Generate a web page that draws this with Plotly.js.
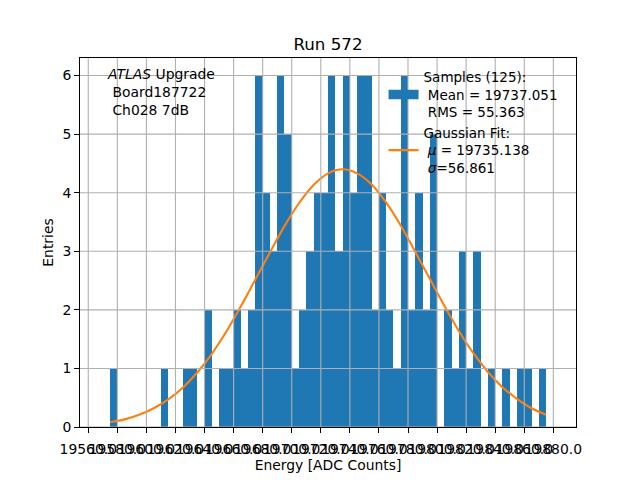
<!DOCTYPE html>
<html>
<head>
<meta charset="utf-8">
<script src="https://cdn.plot.ly/plotly-3.0.1.min.js"></script>
<style>html,body{margin:0;padding:0;background:#fff}</style>
</head>
<body>
<div id="myChart" style="width:640px;height:480px"></div>
<script>
// 125 samples, 60 bins of 5 ADC counts starting at 19575
const binStart = 19575;
const binWidth = 5;
const counts = [1,0,0,0,0,0,0,1,0,0,
                1,1,0,2,0,1,1,2,1,2,
                6,4,3,6,5,1,2,3,4,4,
                6,3,6,4,6,6,2,4,2,1,
                6,2,4,2,5,0,2,1,3,1,
                3,0,1,0,1,0,1,1,0,1];

// gaussian fit curve
const fitX = [19575,19585,19595,19605,19615,19625,19635,19645,19655,19665,
              19675,19685,19695,19705,19715,19725,19735,19745,19755,19765,
              19775,19785,19795,19805,19815,19825,19835,19845,19855,19865,19875];
const fitY = [0.08,0.13,0.21,0.32,0.47,0.67,0.93,1.25,1.63,2.06,
              2.52,2.98,3.43,3.82,4.13,4.33,4.40,4.33,4.14,3.83,
              3.44,2.99,2.53,2.07,1.64,1.26,0.94,0.68,0.48,0.32,0.21];

const xTicks = [19560,19580,19600,19620,19640,19660,19680,19700,19720,
                19740,19760,19780,19800,19820,19840,19860,19880];
const yTicks = [0,1,2,3,4,5,6];

const BLUE = '#1f77b4';
const ORANGE = '#ff7f0e';
const GRID = '#b0b0b0';
const FONT = 'DejaVu Sans, sans-serif';
const NB = '\u00a0';

let binCenters = counts.map((c, i) => binStart + binWidth * (i + 0.5));

const samplesLegend = {
    x: [null], y: [null],
    type: 'scatter',
    mode: 'lines',
    name: 'Samples (125):<br>' + NB + 'Mean = 19737.051<br>' + NB + 'RMS = 55.363',
    line: { color: BLUE, width: 9.5 },
    hoverinfo: 'skip'
};

const hist = {
    x: binCenters,
    y: counts,
    type: 'bar',
    width: binWidth,
    marker: { color: BLUE, line: { width: 0 } },
    showlegend: false
};

const fit = {
    x: fitX,
    y: fitY,
    type: 'scatter',
    mode: 'lines',
    line: { color: ORANGE, width: 2.1, shape: 'spline' },
    name: 'Gaussian Fit:<br>' + NB + '<i>μ</i> = 19735.138<br>' + NB + '<i>σ</i>=56.861'
};

// grid lines drawn over the bars, like matplotlib
let shapes = [];
xTicks.forEach(v => shapes.push({
    type: 'line', xref: 'x', yref: 'paper', x0: v, x1: v, y0: 0, y1: 1,
    line: { color: GRID, width: 1.1 }, layer: 'above'
}));
yTicks.forEach(v => shapes.push({
    type: 'line', xref: 'paper', yref: 'y', x0: 0, x1: 1, y0: v, y1: v,
    line: { color: GRID, width: 1.1 }, layer: 'above'
}));

const axisCommon = {
    showgrid: false,
    zeroline: false,
    showline: true,
    mirror: true,
    linecolor: '#000000',
    linewidth: 1,
    ticks: 'outside',
    ticklen: 5,
    tickwidth: 1,
    tickcolor: '#000000',
    tickfont: { family: FONT, size: 13.9, color: '#000000' },
    tickmode: 'array',
    tickangle: 0
};

const layout = {
    width: 640,
    height: 480,
    font: { family: FONT, color: '#000000' },
    title: {
        text: 'Run 572',
        font: { family: FONT, size: 16.7, color: '#000000' },
        x: 0.5, xref: 'paper',
        y: 0.908, yref: 'container', yanchor: 'middle'
    },
    xaxis: Object.assign({}, axisCommon, {
        range: [19554.3, 19895.6],
        tickvals: xTicks,
        ticktext: xTicks.map(v => v.toFixed(1)),
        ticklabelstandoff: 4,
        title: { text: 'Energy [ADC Counts]', font: { family: FONT, size: 13.9 }, standoff: 1 }
    }),
    yaxis: Object.assign({}, axisCommon, {
        range: [0, 6.3],
        tickvals: yTicks,
        ticktext: yTicks.map(String),
        title: { text: 'Entries', font: { family: FONT, size: 13.9 }, standoff: 5 }
    }),
    bargap: 0,
    showlegend: true,
    legend: {
        x: 0.612, y: 0.99, xanchor: 'left', yanchor: 'top',
        bgcolor: 'rgba(0,0,0,0)',
        font: { family: FONT, size: 13.5, color: '#000000' },
        itemwidth: 30,
        valign: 'middle'
    },
    annotations: [{
        text: '<i>ATLAS</i> Upgrade<br>' + NB + 'Board187722<br>' + NB + 'Ch028 7dB',
        xref: 'paper', yref: 'paper',
        x: 0.05, y: 0.983,
        xanchor: 'left', yanchor: 'top',
        align: 'left',
        showarrow: false,
        font: { family: FONT, size: 13.9, color: '#000000' }
    }],
    shapes: shapes,
    paper_bgcolor: '#ffffff',
    plot_bgcolor: '#ffffff',
    margin: { t: 58, b: 53, l: 80, r: 64 },
    hovermode: false
};

Plotly.newPlot('myChart', [samplesLegend, hist, fit], layout, { displayModeBar: false, staticPlot: true });
</script>
</body>
</html>
